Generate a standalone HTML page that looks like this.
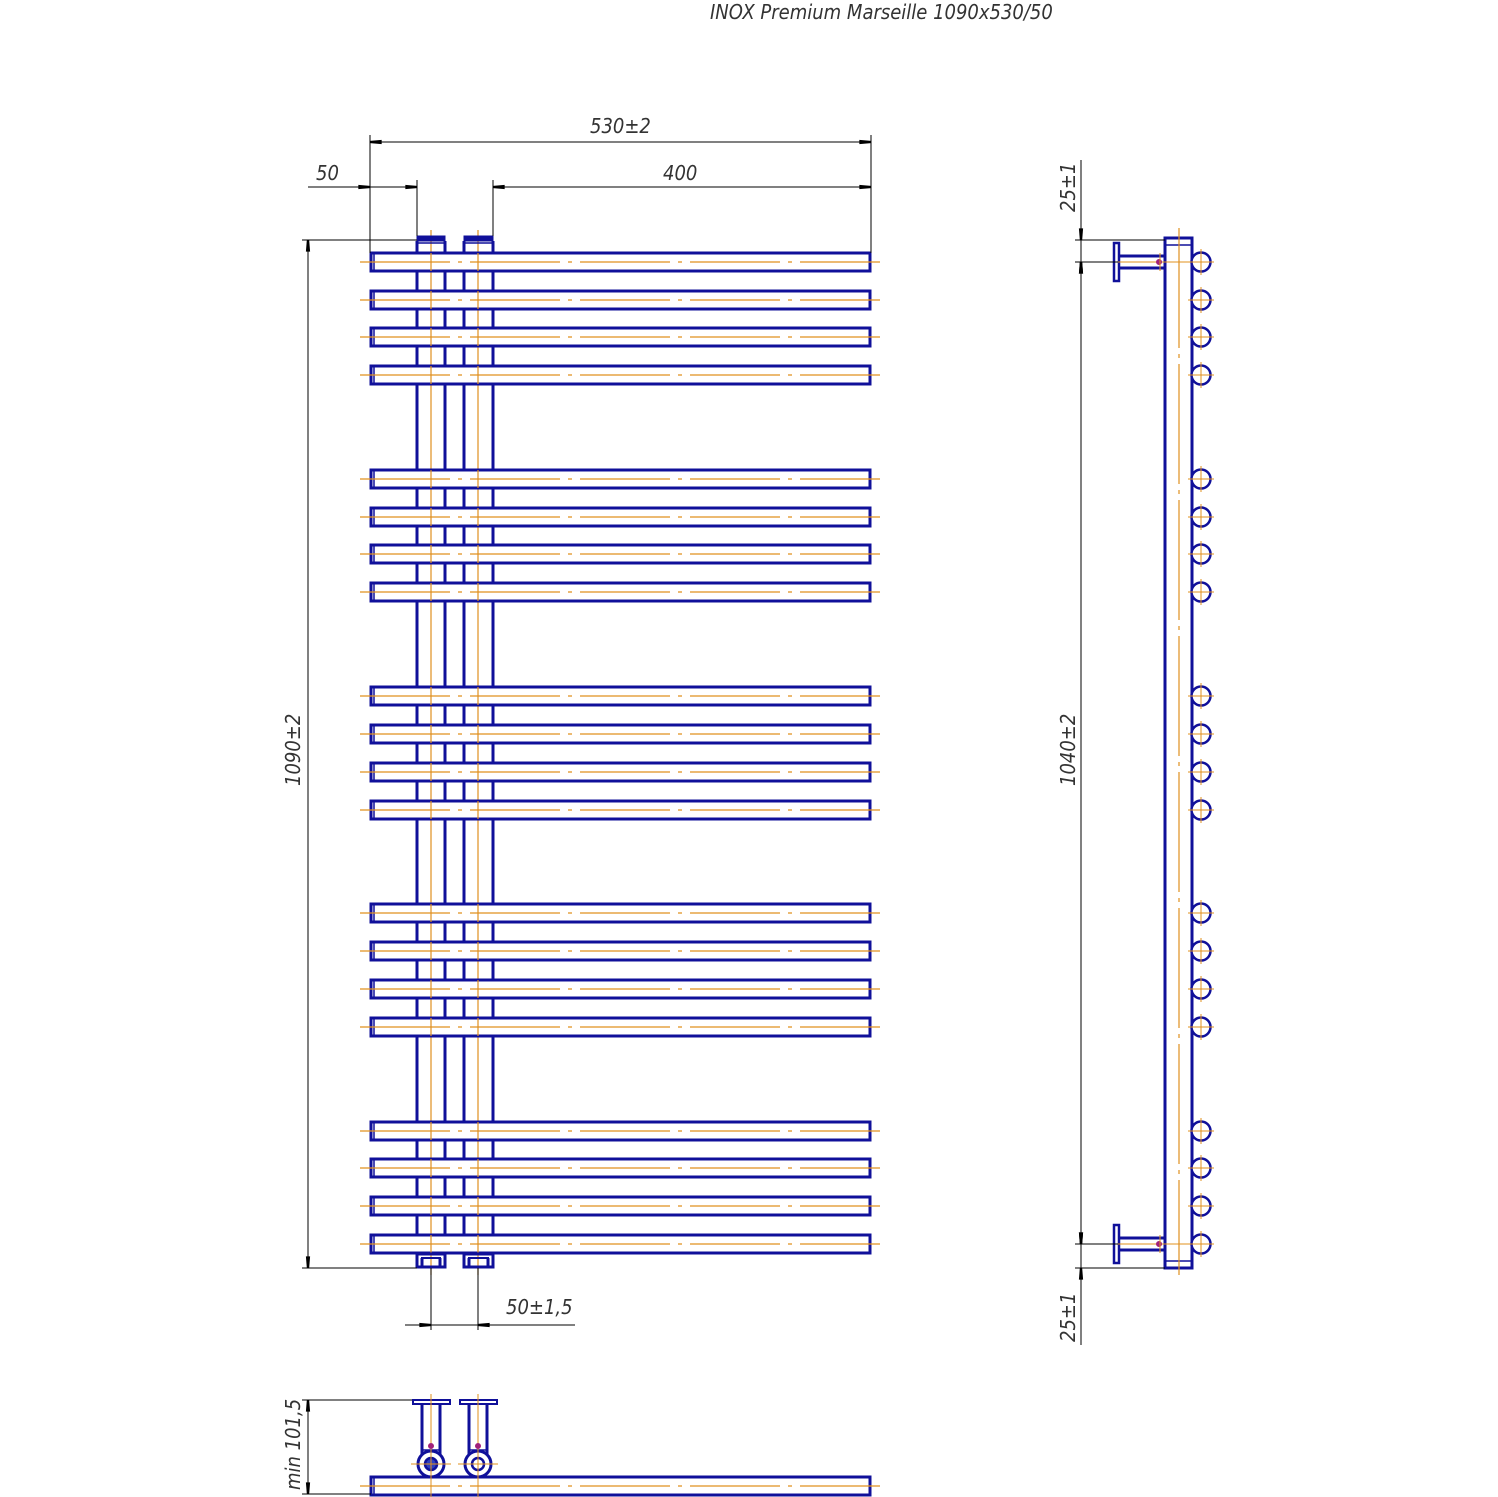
<!DOCTYPE html>
<html><head><meta charset="utf-8">
<style>
html,body{margin:0;padding:0;background:#fff;}
svg{display:block;}
text{font-family:"DejaVu Sans Condensed","Liberation Sans",sans-serif;font-style:italic;fill:#333;}
</style></head>
<body>
<svg id="s" width="1498" height="1497" viewBox="0 0 1498 1497" xmlns="http://www.w3.org/2000/svg">
<defs>
<marker id="a" viewBox="0 0 10 6" refX="10" refY="3" markerWidth="18" markerHeight="7" markerUnits="userSpaceOnUse" orient="auto-start-reverse"><path d="M0,1.2 L10,2 L10,4 L0,4.8 Z" fill="#000"/></marker>
</defs>
<text x="710" y="19" font-size="20">INOX Premium Marseille 1090x530/50</text>
<text x="590" y="133" font-size="20">530±2</text>
<text x="316" y="180" font-size="20">50</text>
<text x="663" y="180" font-size="20">400</text>
<text x="506" y="1314" font-size="20">50±1,5</text>
<text transform="translate(300,786) rotate(-90)" font-size="20">1090±2</text>
<text transform="translate(300,1490) rotate(-90)" font-size="20">min 101,5</text>
<text transform="translate(1075,212) rotate(-90)" font-size="20">25±1</text>
<text transform="translate(1075,786) rotate(-90)" font-size="20">1040±2</text>
<text transform="translate(1075,1342) rotate(-90)" font-size="20">25±1</text>
<g id="g"></g>
</svg>
<script>
var g=document.getElementById('g'),h='';
var B='#10109a',O='#e0901e',K='#000';
function L(x1,y1,x2,y2,c,w,extra){h+='<line x1="'+x1+'" y1="'+y1+'" x2="'+x2+'" y2="'+y2+'" stroke="'+c+'" stroke-width="'+w+'" '+(extra||'')+'/>';}
function R(x,y,w,hh,c,sw,f){h+='<rect x="'+x+'" y="'+y+'" width="'+w+'" height="'+hh+'" stroke="'+c+'" stroke-width="'+sw+'" fill="'+(f||'none')+'"/>';}
function C(x,y,r,c,sw,f){h+='<circle cx="'+x+'" cy="'+y+'" r="'+r+'" stroke="'+c+'" stroke-width="'+sw+'" fill="'+(f||'none')+'"/>';}
var ys=[262,300,337,375,479,517,554,592,696,734,772,810,913,951,989,1027,1131,1168,1206,1244];
[417,445,464,493].forEach(function(x){L(x,243,x,1253,B,3);});
[431,478].forEach(function(x){L(x,230,x,1275,O,1.2);});
ys.forEach(function(y){
  R(371,y-9,499,18,B,3,'#fff');
  L(374,y-8,374,y+8,B,1.5);
  L(360,y,880,y,O,1.2,'stroke-dasharray="90,8,4,8"');
});
[431,478].forEach(function(x){ys.forEach(function(y){L(x,y-9,x,y+9,O,1.2);});});
[[417,445],[464,493]].forEach(function(p){
  R(p[0],236,p[1]-p[0],5,B,1,B);L(p[0],241,p[0],253,B,3);L(p[1],241,p[1],253,B,3);L(p[0],243,p[1],243,B,1.5);
  R(p[0],1254,p[1]-p[0],13,B,3,'none');L(p[0]+4,1258,p[1]-4,1258,B,2);L(p[0]+5,1258,p[0]+5,1266,B,3);L(p[1]-5,1258,p[1]-5,1266,B,3);
});
L(370,135,370,253,K,1);L(871,135,871,253,K,1);
L(370,142,871,142,K,1,'marker-start="url(#a)" marker-end="url(#a)"');
L(417,180,417,236,K,1);L(493,180,493,236,K,1);
L(308,187,370,187,K,1,'marker-end="url(#a)"');L(370,187,396,187,K,1);
L(392,187,417,187,K,1,'marker-end="url(#a)"');
L(493,187,871,187,K,1,'marker-start="url(#a)" marker-end="url(#a)"');
L(302,240,417,240,K,1);L(302,1268,417,1268,K,1);
L(308,240,308,1268,K,1,'marker-start="url(#a)" marker-end="url(#a)"');
L(431,1268,431,1330,K,1);L(478,1268,478,1330,K,1);
L(405,1325,431,1325,K,1,'marker-end="url(#a)"');L(431,1325,478,1325,K,1);L(575,1325,478,1325,K,1,'marker-end="url(#a)"');
R(1165,238,27,1030,B,3,'#fff');L(1165,245,1192,245,B,1.5);L(1165,1261,1192,1261,B,1.5);
L(1179,228,1179,1275,O,1.2,'stroke-dasharray="120,6,4,6"');
ys.forEach(function(y){C(1201,y,9.5,B,2.5,'#fff');L(1188,y,1214,y,O,1);L(1201,y-13,1201,y+13,O,1);});
[262,1244].forEach(function(y){
  L(1119,y-6,1165,y-6,B,3);L(1119,y+6,1165,y+6,B,3);R(1114,y-19,5,38,B,2.5,'#fff');
  L(1105,y,1190,y,O,1);C(1159,y,2.5,'#a0207a',1,'#a0207a');L(1160,y-9,1160,y+9,O,1);
});
L(1075,240,1165,240,K,1);L(1075,262,1118,262,K,1);L(1075,1244,1118,1244,K,1);L(1075,1268,1165,1268,K,1);
L(1081,160,1081,240,K,1,'marker-end="url(#a)"');L(1081,240,1081,262,K,1);L(1081,290,1081,262,K,1,'marker-end="url(#a)"');
L(1081,262,1081,1244,K,1,'marker-start="url(#a)" marker-end="url(#a)"');
L(1081,1220,1081,1244,K,1,'marker-end="url(#a)"');L(1081,1244,1081,1268,K,1);L(1081,1345,1081,1268,K,1,'marker-end="url(#a)"');
R(371,1477,499,18,B,3,'#fff');L(374,1478,374,1494,B,1.5);L(360,1486,880,1486,O,1.2,'stroke-dasharray="90,8,4,8"');
[431,478].forEach(function(x,i){
  R(x-18,1400,37,4,B,2,'#fff');L(x-9,1404,x-9,1455,B,3);L(x+9,1404,x+9,1455,B,3);L(x-9,1450,x+9,1450,B,1.5);
  C(x,1464,13,B,3,'#fff');C(x,1464,6,B,2.5,i==0?'#3040c0':'#fff');
  L(x,1394,x,1497,O,1);L(x-20,1464,x+20,1464,O,1);C(x,1446,2.5,'#a0207a',1,'#a0207a');
});
L(302,1400,412,1400,K,1);L(302,1494,371,1494,K,1);
L(308,1400,308,1494,K,1,'marker-start="url(#a)" marker-end="url(#a)"');
g.innerHTML=h;
</script>
</body></html>
